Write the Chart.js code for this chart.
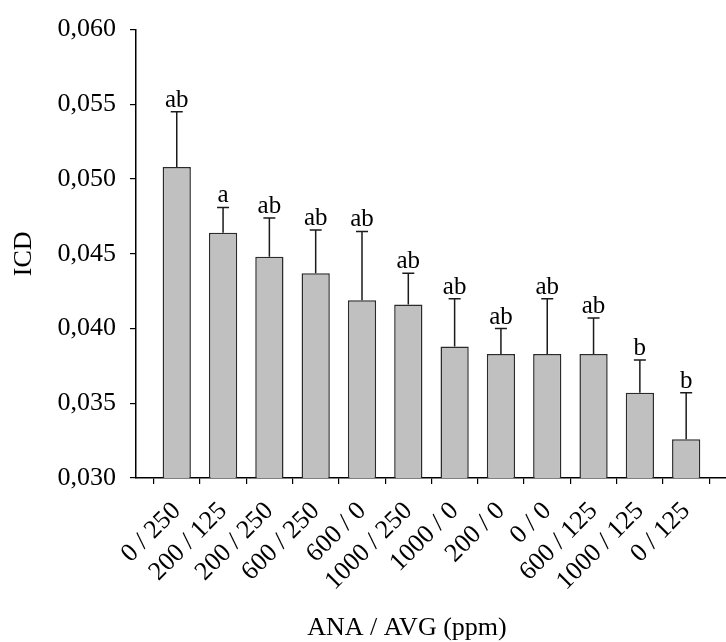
<!DOCTYPE html>
<html>
<head>
<meta charset="utf-8">
<script src="https://cdn.jsdelivr.net/npm/chart.js@4.4.0/dist/chart.umd.min.js"></script>
<style>
  html, body { margin: 0; padding: 0; background: #fff; }
  #wrap { width: 726px; height: 642px; position: relative; }
</style>
</head>
<body>
<div id="wrap"><canvas id="c" width="726" height="642"></canvas></div>
<script>
// Treatments (ANA / AVG concentrations, ppm)
const categories = ['0 / 250', '200 / 125', '200 / 250', '600 / 250', '600 / 0', '1000 / 250',
                    '1000 / 0', '200 / 0', '0 / 0', '600 / 125', '1000 / 125', '0 / 125'];
// Mean ICD per treatment
const icdMeans = [0.0508, 0.0464, 0.0448, 0.0437, 0.0419, 0.0416,
                  0.0388, 0.0383, 0.0383, 0.0383, 0.0357, 0.0326];
// Standard deviation (upper error bar)
const icdErrors = [0.0037, 0.0017, 0.0026, 0.0029, 0.0046, 0.0021,
                   0.0032, 0.0017, 0.0037, 0.0024, 0.0022, 0.0031];
// Significance letters
const groupLetters = ['ab', 'a', 'ab', 'ab', 'ab', 'ab', 'ab', 'ab', 'ab', 'ab', 'b', 'b'];
// Y-axis ticks
const yTicks = [0.030, 0.035, 0.040, 0.045, 0.050, 0.055, 0.060];

const SERIF = '"Liberation Serif", "Times New Roman", serif';

// Upper error bars with caps plus the group letters above them
const errorBarPlugin = {
  id: 'errorBars',
  afterDatasetsDraw(chart) {
    const { ctx, scales: { x, y } } = chart;
    ctx.save();
    ctx.strokeStyle = '#1a1a1a';
    ctx.lineWidth = 1.5;
    ctx.fillStyle = '#000';
    ctx.font = '25px ' + SERIF;
    ctx.textAlign = 'center';
    ctx.textBaseline = 'alphabetic';
    icdMeans.forEach((m, i) => {
      const px = x.getPixelForValue(i);
      const yBar = y.getPixelForValue(m);
      const yTop = y.getPixelForValue(m + icdErrors[i]);
      ctx.beginPath();
      ctx.moveTo(px, yBar);
      ctx.lineTo(px, yTop);
      ctx.moveTo(px - 6, yTop);
      ctx.lineTo(px + 6, yTop);
      ctx.stroke();
      ctx.fillText(groupLetters[i], px, yTop - 5);
    });
    ctx.restore();
  }
};

// X-axis title
const xTitlePlugin = {
  id: 'xTitle',
  afterDraw(chart) {
    const { ctx, scales: { x } } = chart;
    ctx.save();
    ctx.fillStyle = '#000';
    ctx.font = '26px ' + SERIF;
    ctx.textAlign = 'center';
    ctx.textBaseline = 'alphabetic';
    ctx.fillText('ANA / AVG (ppm)', x.getPixelForValue(4.97), 635);
    ctx.restore();
  }
};

new Chart(document.getElementById('c'), {
  type: 'bar',
  data: {
    datasets: [{
      data: icdMeans.map((v, i) => ({ x: i, y: v })),
      backgroundColor: '#c0c0c0',
      borderColor: '#2a2a2a',
      borderWidth: 1.5,
      categoryPercentage: 1,
      barPercentage: 0.61
    }]
  },
  options: {
    responsive: false,
    animation: false,
    events: [],
    layout: { padding: { top: 25, left: 0, right: 0, bottom: 0 } },
    plugins: { legend: { display: false }, tooltip: { enabled: false } },
    scales: {
      x: {
        type: 'linear',
        offset: false,
        min: -0.88,
        max: 11.86,
        grid: { display: true, drawOnChartArea: false, drawTicks: true, tickLength: 6, color: '#000', lineWidth: 1.2 },
        border: { display: true, color: '#000', width: 1.5 },
        ticks: {
          stepSize: 1,
          includeBounds: false,
          maxTicksLimit: 20,
          autoSkip: false,
          minRotation: 45,
          maxRotation: 45,
          padding: 12,
          color: '#000',
          font: { family: SERIF, size: 26 },
          callback: (v) => categories[v] ?? ''
        },
        afterFit(scale) {
          scale.height = 164;
          scale.paddingLeft = 0;
          scale.paddingRight = 0;
        }
      },
      y: {
        min: yTicks[0],
        max: yTicks[yTicks.length - 1],
        grid: { display: true, drawOnChartArea: false, drawTicks: true, tickLength: 6, color: '#000', lineWidth: 1.2 },
        border: { display: true, color: '#000', width: 1.5 },
        afterBuildTicks(scale) {
          scale.ticks = yTicks.map(v => ({ value: v }));
        },
        ticks: {
          padding: 14,
          color: '#000',
          font: { family: SERIF, size: 26 },
          callback: (v) => Number(v).toFixed(3).replace('.', ',')
        },
        title: {
          display: true,
          text: 'ICD',
          color: '#000',
          font: { family: SERIF, size: 26 },
          padding: { top: 9, bottom: 0 }
        },
        afterFit(scale) {
          scale.width = 136;
        }
      }
    }
  },
  plugins: [errorBarPlugin, xTitlePlugin]
});
</script>
</body>
</html>
